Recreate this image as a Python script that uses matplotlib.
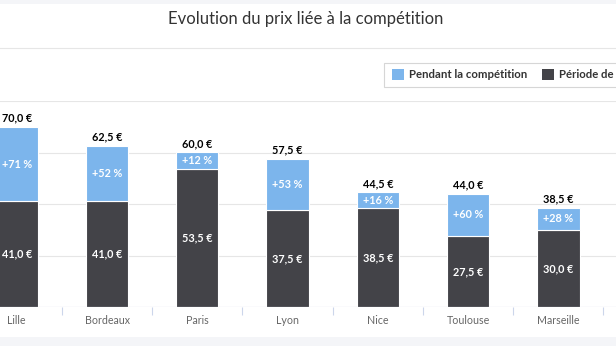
import numpy as np
import matplotlib.pyplot as plt
from matplotlib.patches import Rectangle
from matplotlib.lines import Line2D

plt.rcParams['font.family'] = ['Lato', 'DejaVu Sans']

# prix moyens par ville (en euros)
villes = ['Lille', 'Bordeaux', 'Paris', 'Lyon', 'Nice', 'Toulouse', 'Marseille']
prix_reference = [41.0, 41.0, 53.5, 37.5, 38.5, 27.5, 30.0]
prix_competition = [70.0, 62.5, 60.0, 57.5, 44.5, 44.0, 38.5]
hausse_pct = [71, 52, 12, 53, 16, 60, 28]

BLEU = '#7cb5ec'
GRIS = '#434348'

W, H = 616, 346
fig = plt.figure(figsize=(W / 100, H / 100), dpi=100)


def fx(px):
    return px / W


def fy(py):
    return 1 - py / H


def euro(v):
    return f"{v:.1f}".replace('.', ',') + ' €'


# bandeaux de la page et séparateur sous le titre
fig.patches.append(Rectangle((0, fy(4)), 1, 4 / H, transform=fig.transFigure,
                             facecolor='#f4f5f8', edgecolor='none', zorder=0))
fig.patches.append(Rectangle((0, 0), 1, 9 / H, transform=fig.transFigure,
                             facecolor='#f4f5f8', edgecolor='none', zorder=0))
fig.add_artist(Line2D([0, 1], [fy(48), fy(48)], transform=fig.transFigure,
                      color='#e6e6e6', lw=0.8))

fig.text(fx(306), fy(19), 'Evolution du prix liée à la compétition',
         ha='center', va='center', fontsize=12, color='#333333')

# légende (coupée par le bord droit)
fig.patches.append(Rectangle((fx(384), fy(87)), fx(260), 24 / H, transform=fig.transFigure,
                             facecolor='white', edgecolor='#d6d6d6', lw=0.8, zorder=2))
for x0, couleur, texte in [(392, BLEU, 'Pendant la compétition'),
                           (542, GRIS, 'Période de référence')]:
    fig.patches.append(Rectangle((fx(x0), fy(80)), fx(12), 11 / H, transform=fig.transFigure,
                                 facecolor=couleur, edgecolor='none', zorder=3))
    fig.text(fx(x0 + 17), fy(75), texte, ha='left', va='center', fontsize=8.2,
             fontweight='bold', color='#333333', zorder=3)

# graphique empilé
ax = fig.add_axes([0, fy(307), 1, (307 - 101) / H])
x = np.arange(len(villes))
hausse = [c - r for c, r in zip(prix_competition, prix_reference)]

ax.bar(x, prix_reference, width=0.47, color=GRIS, edgecolor='white', linewidth=0.8, zorder=3)
ax.bar(x, hausse, bottom=prix_reference, width=0.47, color=BLEU,
       edgecolor='white', linewidth=0.8, zorder=3)

for i in range(len(villes)):
    ax.text(x[i], prix_reference[i] / 2, euro(prix_reference[i]), ha='center', va='center',
            fontsize=7.8, fontweight='bold', color='white', zorder=4)
    ax.text(x[i], prix_reference[i] + hausse[i] / 2, f"+{hausse_pct[i]} %", ha='center',
            va='center', fontsize=7.8, fontweight='bold', color='white', zorder=4)
    ax.annotate(euro(prix_competition[i]), (x[i], prix_competition[i]), xytext=(0, 6.5),
                textcoords='offset points', ha='center', va='center',
                fontsize=7.8, fontweight='bold', color='black', zorder=4)

ax.set_yticks(range(0, 81, 20))
ax.yaxis.grid(True, color='#e6e6e6', lw=0.8, zorder=0)
ax.tick_params(axis='y', left=False, labelleft=False)
ax.set_xticks(x, villes)
ax.set_xticks(np.arange(-0.5, len(villes) + 0.5, 1), minor=True)
ax.tick_params(axis='x', which='major', length=0, pad=6, labelsize=7.7, labelcolor='#666666')
ax.tick_params(axis='x', which='minor', length=5.5, width=0.8, color='#ccd6eb')
ax.set_xlim(-0.1855, 6.639)
ax.set_ylim(0, 80)
for s in ax.spines.values():
    s.set_visible(False)
ax.axhline(0, color='#ccd6eb', lw=0.8, zorder=4)

fig.savefig('out.png', dpi=100)
